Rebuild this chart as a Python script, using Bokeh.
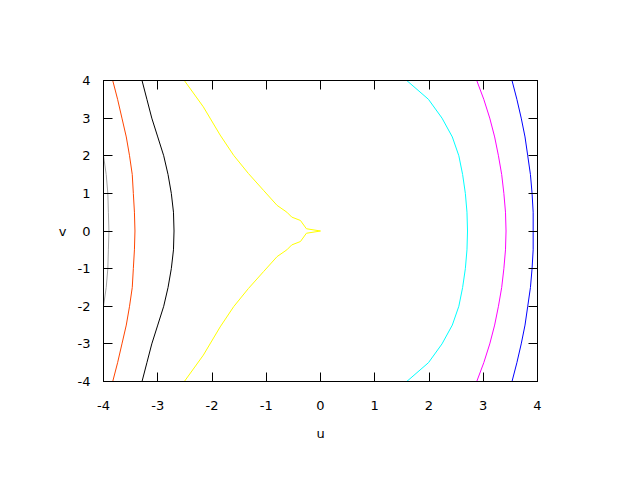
from bokeh.plotting import figure
from bokeh.models import LinearAxis, FixedTicker, Range1d
from bokeh.embed import file_html
from bokeh.resources import INLINE

# ---- data (contour lines in the u-v plane) ----
u_ticks = [-4, -3, -2, -1, 0, 1, 2, 3, 4]
v_ticks = [-4, -3, -2, -1, 0, 1, 2, 3, 4]
tick_text = {t: str(t) for t in u_ticks}

gray_u = [-4.0, -3.95, -3.92, -3.91, -3.90, -3.91, -3.92, -3.95, -4.0]
gray_v = [2.0, 1.5, 1.0, 0.5, 0.0, -0.5, -1.0, -1.5, -2.0]

orange_u = [-3.83, -3.74, -3.66, -3.58, -3.52, -3.47, -3.45, -3.43, -3.42,
            -3.43, -3.45, -3.47, -3.52, -3.58, -3.66, -3.74, -3.83]
orange_v = [4.0, 3.5, 3.0, 2.5, 2.0, 1.5, 1.0, 0.5, 0.0,
            -0.5, -1.0, -1.5, -2.0, -2.5, -3.0, -3.5, -4.0]

black_u = [-3.29, -3.20, -3.11, -3.00, -2.89, -2.81, -2.75, -2.71, -2.70,
           -2.71, -2.75, -2.81, -2.89, -3.00, -3.11, -3.20, -3.29]
black_v = [4.0, 3.5, 3.0, 2.5, 2.0, 1.5, 1.0, 0.5, 0.0,
           -0.5, -1.0, -1.5, -2.0, -2.5, -3.0, -3.5, -4.0]

yellow_u = [-2.51, -2.16, -1.85, -1.60, -1.33, -1.05, -0.80, -0.62, -0.53, -0.37, -0.26, 0.0,
            -0.26, -0.37, -0.53, -0.62, -0.80, -1.05, -1.33, -1.60, -1.85, -2.16, -2.51]
yellow_v = [4.0, 3.30, 2.55, 2.01, 1.53, 1.08, 0.68, 0.50, 0.37, 0.28, 0.06, 0.0,
            -0.06, -0.28, -0.37, -0.50, -0.68, -1.08, -1.53, -2.01, -2.55, -3.30, -4.0]

cyan_u = [1.59, 1.99, 2.24, 2.43, 2.55, 2.62, 2.67, 2.70, 2.71,
          2.70, 2.67, 2.62, 2.55, 2.43, 2.24, 1.99, 1.59]
cyan_v = [4.0, 3.5, 3.0, 2.5, 2.0, 1.5, 1.0, 0.5, 0.0,
          -0.5, -1.0, -1.5, -2.0, -2.5, -3.0, -3.5, -4.0]

magenta_u = [2.88, 3.01, 3.12, 3.21, 3.28, 3.34, 3.38, 3.41, 3.42,
             3.41, 3.38, 3.34, 3.28, 3.21, 3.12, 3.01, 2.88]
magenta_v = [4.0, 3.5, 3.0, 2.5, 2.0, 1.5, 1.0, 0.5, 0.0,
             -0.5, -1.0, -1.5, -2.0, -2.5, -3.0, -3.5, -4.0]

blue_u = [3.53, 3.62, 3.70, 3.77, 3.82, 3.87, 3.90, 3.92, 3.92,
          3.92, 3.90, 3.87, 3.82, 3.77, 3.70, 3.62, 3.53]
blue_v = [4.0, 3.5, 3.0, 2.5, 2.0, 1.5, 1.0, 0.5, 0.0,
          -0.5, -1.0, -1.5, -2.0, -2.5, -3.0, -3.5, -4.0]

curves = [
    (gray_u, gray_v, "#a0a0a0"),
    (orange_u, orange_v, "#ff4500"),
    (black_u, black_v, "#000000"),
    (yellow_u, yellow_v, "#ffff00"),
    (cyan_u, cyan_v, "#00ffff"),
    (magenta_u, magenta_v, "#ff00ff"),
    (blue_u, blue_v, "#0000ff"),
]

FONT = "DejaVu Sans"

p = figure(width=624, height=464, output_backend="svg", toolbar_location=None,
           x_range=Range1d(-4, 4), y_range=Range1d(-4, 4),
           min_border_left=103, min_border_right=87, min_border_top=80,
           min_border_bottom=83, x_axis_label="u", y_axis_label="v")
p.xgrid.visible = False
p.ygrid.visible = False
p.outline_line_color = "black"
p.outline_line_width = 1
p.background_fill_color = "white"
p.border_fill_color = "white"

for cu, cv, col in curves:
    p.line(cu, cv, line_color=col, line_width=1)


def style_axis(ax, ticks, show_labels, standoff):
    ax.ticker = FixedTicker(ticks=ticks)
    ax.major_label_overrides = dict(tick_text)
    ax.major_tick_in = 9
    ax.major_tick_out = 0
    ax.minor_tick_line_color = None
    ax.axis_line_color = "black"
    ax.major_tick_line_color = "black"
    ax.major_label_text_font = FONT
    ax.major_label_text_font_size = "13px"
    ax.major_label_text_color = "black" if show_labels else None
    ax.major_label_standoff = standoff
    ax.axis_label_text_font = FONT
    ax.axis_label_text_font_size = "13px"
    ax.axis_label_text_font_style = "normal"
    ax.axis_label_text_color = "black"


style_axis(p.xaxis[0], u_ticks, True, 19)
style_axis(p.yaxis[0], v_ticks, True, 13)
p.xaxis[0].axis_label_standoff = 13
p.yaxis[0].axis_label_standoff = 8
p.yaxis[0].axis_label_orientation = "horizontal"

top = LinearAxis()
style_axis(top, u_ticks, False, 0)
p.add_layout(top, "above")
right = LinearAxis()
style_axis(right, v_ticks, False, 0)
p.add_layout(right, "right")

open("out.html", "w").write(file_html(p, INLINE))
